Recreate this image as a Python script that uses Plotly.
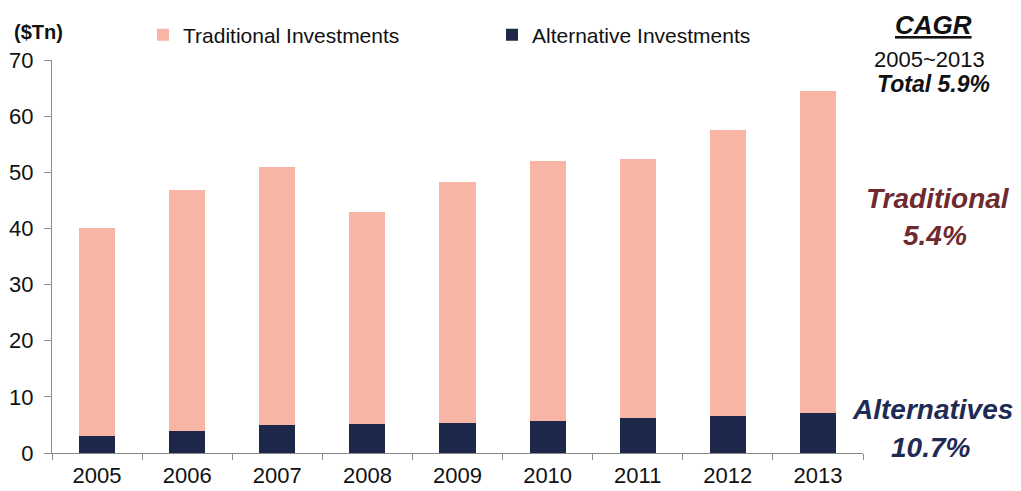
import plotly.graph_objects as go

years = ["2005", "2006", "2007", "2008", "2009", "2010", "2011", "2012", "2013"]
alternative = [3.1, 4.0, 5.0, 5.1, 5.3, 5.7, 6.3, 6.6, 7.1]
traditional = [37.0, 42.8, 46.0, 37.9, 42.9, 46.3, 46.1, 50.9, 57.3]
y_ticks = [0, 10, 20, 30, 40, 50, 60, 70]

PINK = "#F8B5A6"
NAVY = "#1C2749"
MAROON = "#6E2A2E"
NAVYTXT = "#1F2A55"
FONT = "Arial, Liberation Sans, sans-serif"

OFF = 8  # page body margin
PAGE_W, PAGE_H = 1021, 491
W, H = PAGE_W - OFF, PAGE_H - OFF
# plot area in page pixels
X0, X1, Y0, Y1 = 52, 863, 60, 453
L, R, T, B = X0 - OFF, PAGE_W - X1, Y0 - OFF, PAGE_H - Y1
PW, PH = X1 - X0, Y1 - Y0


def px(x):
    return (x - X0) / PW


def py(y):
    return (Y1 - y) / PH


fig = go.Figure()
fig.add_trace(go.Bar(x=years, y=alternative, name="Alternative Investments",
                     marker=dict(color=NAVY, line=dict(width=0))))
fig.add_trace(go.Bar(x=years, y=traditional, name="Traditional Investments",
                     marker=dict(color=PINK, line=dict(width=0))))

fig.update_layout(
    width=W, height=H,
    margin=dict(l=L, r=R, t=T, b=B, pad=0, autoexpand=False),
    barmode="stack", bargap=0.6,
    plot_bgcolor="white", paper_bgcolor="white",
    font=dict(family=FONT, size=20, color="#111111"),
    legend=dict(orientation="h", traceorder="reversed",
                x=px(143), xanchor="left", y=py(35), yanchor="middle",
                entrywidth=304, entrywidthmode="pixels",
                font=dict(size=21, color="#111111"), bgcolor="rgba(0,0,0,0)",
                itemsizing="constant"),
    xaxis=dict(type="category", showline=True, linecolor="#8a8a8a", linewidth=1,
               ticks="outside", tickson="boundaries", ticklen=6, tickcolor="#8a8a8a",
               tickfont=dict(size=22), ticklabelstandoff=3,
               showgrid=False, zeroline=False, automargin=False),
    yaxis=dict(range=[0, 70], tickvals=y_ticks, showline=True, linecolor="#8a8a8a",
               linewidth=1, ticks="outside", ticklen=7, tickcolor="#8a8a8a",
               tickfont=dict(size=22), ticklabelstandoff=6,
               showgrid=False, zeroline=False, automargin=False),
)

ann = [
    dict(x=px(38), y=py(32), text="<b>($Tn)</b>", font=dict(size=20, color="#111111")),
    dict(x=px(933), y=py(25), text="<b><i><u>CAGR</u></i></b>", font=dict(size=26, color="#111111")),
    dict(x=px(929), y=py(59), text="2005~2013", font=dict(size=22, color="#111111")),
    dict(x=px(933), y=py(84), text="<b><i>Total 5.9%</i></b>", font=dict(size=23, color="#111111")),
    dict(x=px(938), y=py(198), text="<b><i>Traditional</i></b>", font=dict(size=28, color=MAROON)),
    dict(x=px(935), y=py(235), text="<b><i>5.4%</i></b>", font=dict(size=28, color=MAROON)),
    dict(x=px(932), y=py(409), text="<b><i>Alternatives</i></b>", font=dict(size=28, color=NAVYTXT)),
    dict(x=px(930), y=py(447), text="<b><i>10.7%</i></b>", font=dict(size=28, color=NAVYTXT)),
]
for a in ann:
    fig.add_annotation(xref="paper", yref="paper", xanchor="center", yanchor="middle",
                       showarrow=False, borderpad=0, **a)

fig.write_html("out.html")
